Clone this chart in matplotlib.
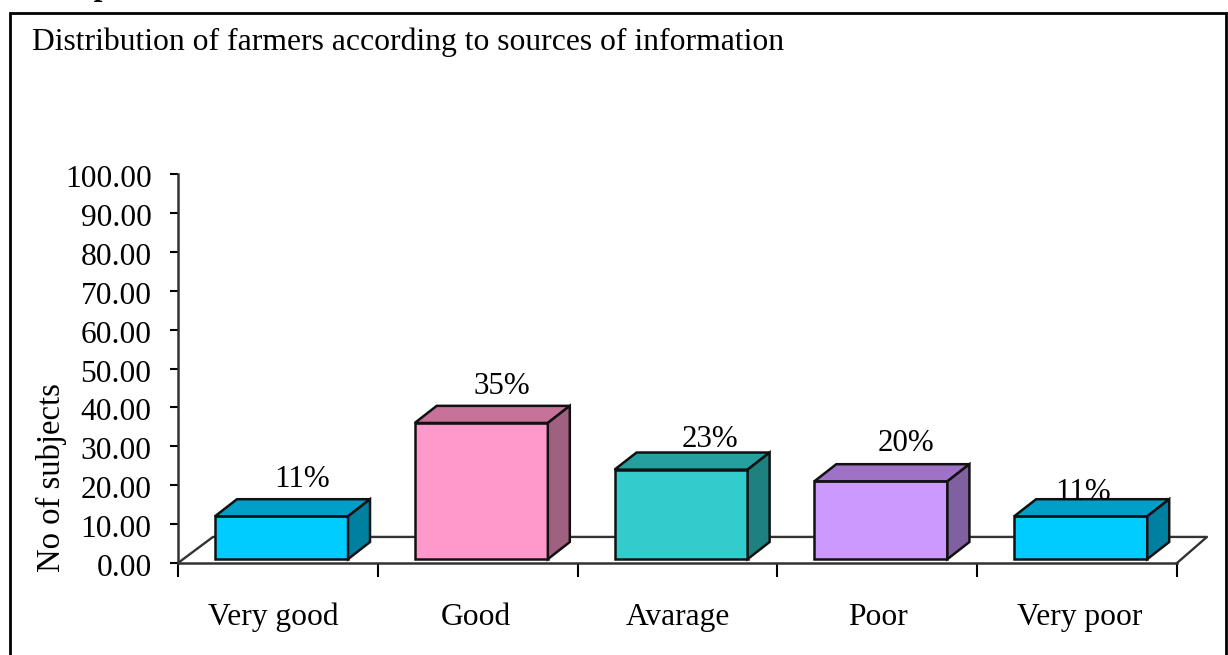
import numpy as np
import matplotlib
matplotlib.use('Agg')
import matplotlib.pyplot as plt
from matplotlib.patches import Polygon, Rectangle
from matplotlib.transforms import ScaledTranslation

plt.rcParams['font.family'] = ['Liberation Serif', 'DejaVu Serif']

categories = ['Very good', 'Good', 'Avarage', 'Poor', 'Very poor']
values = [11, 35, 23, 20, 11]
labels = ['11%', '35%', '23%', '20%', '11%']
yticks = np.arange(0, 101, 10)

front = ['#00ccff', '#ff99cc', '#33cccc', '#cc99ff', '#00ccff']
top = ['#009fc7', '#c77299', '#269f9f', '#9f72c7', '#009fc7']
side = ['#0080a0', '#a06080', '#1f8080', '#8060a0', '#0080a0']
# label offset from bar centre top, in pixels
label_off = [(21, 37), (21, 36), (29, 30), (25, 38), (2, 24)]
cat_off = [-5, -2, 0, 1, 3]

W, H = 1228, 655
fig = plt.figure(figsize=(W / 100, H / 100), dpi=100)
ax = fig.add_axes([178 / W, 1 - 563 / H, (1177 - 178) / W, (563 - 174) / H])
ax.set_xlim(0, 5)
ax.set_ylim(0, 100)
ax.patch.set_alpha(0)
for s in ['top', 'right']:
    ax.spines[s].set_visible(False)
for s in ['left', 'bottom']:
    ax.spines[s].set_linewidth(1.8)
    ax.spines[s].set_color('#333333')

# outer box
fig.add_artist(Rectangle((10 / W, 1 - 700 / H), 1216 / W, 687 / H, fill=False,
                         ec='black', lw=2, transform=fig.transFigure))

fig.text(32 / W, 1 - 50 / H, 'Distribution of farmers according to sources of information',
         fontsize=22.8, va='baseline', ha='left', color='black')
fig.text(41 / W, 1 - 2 / H, 'Graph', fontsize=22.5, fontweight='bold', va='bottom', ha='left')

ax.set_yticks(yticks)
ax.set_yticklabels(['%.2f' % v for v in yticks], fontsize=22.7)
ax.tick_params(axis='y', length=6, width=1.5, pad=13)
down = ScaledTranslation(0, -2 / 100, fig.dpi_scale_trans)
for t in ax.get_yticklabels():
    t.set_transform(t.get_transform() + down)
ax.set_xticks(np.arange(6))
ax.set_xticklabels([])
ax.tick_params(axis='x', length=10, width=1.5, direction='out')
ax.set_ylabel('No of subjects', fontsize=23.5, labelpad=0)
ax.yaxis.set_label_coords(-0.111, 0.22)

# depth of the floor and the boxes, in data units
dx = 0.11
dy = 4.4
base = 1
width = 0.666
lw = 1.8

# floor behind the bars
fx = 0.175
fy = 6.7
ax.plot([0, fx, 5 + fx - 0.025, 5], [0, fy, fy, 0], color='#333333', lw=1.7, clip_on=False, zorder=1)

for i, v in enumerate(values):
    x0 = i + 0.185
    x1 = x0 + width
    y1 = v + base
    ax.bar(x0, v, width=width, bottom=base, align='edge', color=front[i],
           edgecolor='#111111', linewidth=lw, zorder=3)
    ax.add_patch(Polygon([(x0, y1), (x0 + dx, y1 + dy), (x1 + dx, y1 + dy), (x1, y1)],
                         fc=top[i], ec='#111111', lw=lw, zorder=3, clip_on=False))
    ax.add_patch(Polygon([(x1, base), (x1 + dx, base + dy), (x1 + dx, y1 + dy), (x1, y1)],
                         fc=side[i], ec='#111111', lw=lw, zorder=3, clip_on=False))
    ax.annotate(labels[i], ((x0 + x1) / 2, y1), xytext=label_off[i], textcoords='offset pixels',
                ha='center', va='center', fontsize=22.3, zorder=4, annotation_clip=False)
    ax.annotate(categories[i], (i + 0.5, 0), xytext=(cat_off[i], -62), textcoords='offset pixels',
                ha='center', va='baseline', fontsize=22.7, annotation_clip=False)

fig.savefig('out.png', dpi=100)
